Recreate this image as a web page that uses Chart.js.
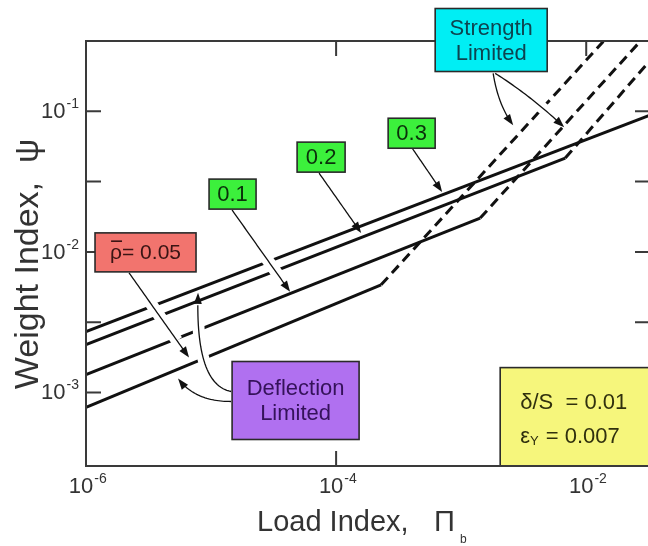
<!DOCTYPE html>
<html>
<head>
<meta charset="utf-8">
<script src="https://cdn.jsdelivr.net/npm/chart.js@4/dist/chart.umd.min.js"></script>
<style>
  html, body { margin: 0; padding: 0; background: #fff; overflow: hidden; }
</style>
</head>
<body>
<canvas id="chart" width="650" height="546"></canvas>
<script>
// values (load index Pi_b, weight index psi)
const rhoLabels = ['0.05', '0.1', '0.2', '0.3'];

// deflection limited parts (solid), ending at the knee
const deflLoad05 = [1e-6, 2.29e-4];
const deflPsi05 = [7.83e-4, 5.83e-3];
const deflLoad1 = [1e-6, 1.42e-3];
const deflPsi1 = [1.34e-3, 1.74e-2];
const deflLoad2 = [1e-6, 6.8e-3];
const deflPsi2 = [2.19e-3, 4.65e-2];
const deflLoad3 = [1e-6, 3.24e-2];
const deflPsi3 = [2.71e-3, 9.4e-2];

// strength limited parts (dashed), from the knee up
const strLoad05 = [2.29e-4, 1.37e-2];
const strPsi05 = [5.83e-3, 3.14e-1];
const strLoad1 = [1.42e-3, 2.7e-2];
const strPsi1 = [1.74e-2, 3.14e-1];
const strLoad2 = [6.8e-3, 3.24e-2];
const strPsi2 = [4.65e-2, 2.3e-1];

const yTickVals = [1e-3, Math.pow(10, -2.5), 1e-2, Math.pow(10, -1.5), 1e-1];
const xTickVals = [1e-4, 1e-2];
const yLabelExps = [-1, -2, -3];
const xLabelExps = [-6, -4, -2];

function pts(xs, ys) {
  return xs.map((x, i) => ({ x: x, y: ys[i] }));
}

const solid = { borderColor: '#111', borderWidth: 3, pointRadius: 0, fill: false };
const dashed = { borderColor: '#111', borderWidth: 3, pointRadius: 0, fill: false, borderDash: [10, 6] };

// annotation boxes and arrows, placed in log10 data units
const boxes = [
  { lines: ['Strength', 'Limited'], at: [-2.76, -0.493], w: 112, h: 63, fill: '#00eef4', ink: '#0d4450', size: 22 },
  { lines: ['0.3'], at: [-3.396, -1.156], w: 47, h: 30, fill: '#3cf03c', ink: '#0b300b', size: 22 },
  { lines: ['0.2'], at: [-4.12, -1.326], w: 48, h: 30, fill: '#3cf03c', ink: '#0b300b', size: 22 },
  { lines: ['0.1'], at: [-4.828, -1.589], w: 47, h: 30, fill: '#3cf03c', ink: '#0b300b', size: 22 },
  { lines: ['rho'], at: [-5.524, -2.0035], w: 101, h: 39, fill: '#f2746e', ink: '#3a1414', size: 21 },
  { lines: ['Deflection', 'Limited'], at: [-4.324, -3.057], w: 127, h: 78, fill: '#b070f0', ink: '#35125a', size: 22 }
];

const arrows = [
  { from: [-2.744, -0.73], ctrl: [-2.704, -0.957], to: [-2.584, -1.099] },
  { from: [-2.728, -0.73], ctrl: [-2.448, -0.887], to: [-2.176, -1.113] },
  { from: [-3.392, -1.262], to: [-3.152, -1.574] },
  { from: [-4.136, -1.44], to: [-3.8, -1.865] },
  { from: [-4.832, -1.702], to: [-4.368, -2.284] },
  { from: [-5.656, -2.149], to: [-5.176, -2.752] },
  { from: [-4.84, -3.064], ctrl: [-5.128, -3.064], to: [-5.264, -2.901] },
  { from: [-4.84, -2.993], ctrl: [-5.128, -2.943], to: [-5.104, -2.291] }
];

const font = (s) => s + 'px "Liberation Sans", Arial, Helvetica, sans-serif';

function px(chart, p) {
  return [chart.scales.x.getPixelForValue(Math.pow(10, p[0])), chart.scales.y.getPixelForValue(Math.pow(10, p[1]))];
}

function bez(a, c, b, t) {
  const u = 1 - t;
  return [u * u * a[0] + 2 * u * t * c[0] + t * t * b[0], u * u * a[1] + 2 * u * t * c[1] + t * t * b[1]];
}

function drawArrow(ctx, a, c, b) {
  const path = (t0, t1) => {
    ctx.beginPath();
    const s = bez(a, c, b, t0);
    ctx.moveTo(s[0], s[1]);
    for (let i = 1; i <= 30; i++) {
      const p = bez(a, c, b, t0 + (t1 - t0) * i / 30);
      ctx.lineTo(p[0], p[1]);
    }
  };
  // white halo breaks the lines the arrow crosses
  ctx.strokeStyle = '#fff';
  ctx.lineWidth = 12;
  ctx.lineCap = 'butt';
  path(0.05, 0.8);
  ctx.stroke();
  ctx.strokeStyle = '#111';
  ctx.lineWidth = 1.3;
  path(0, 0.93);
  ctx.stroke();
  const q = bez(a, c, b, 0.93);
  let dx = b[0] - q[0], dy = b[1] - q[1];
  const L = Math.hypot(dx, dy);
  dx /= L; dy /= L;
  const bx = b[0] - dx * 11, by = b[1] - dy * 11;
  ctx.fillStyle = '#111';
  ctx.beginPath();
  ctx.moveTo(b[0], b[1]);
  ctx.lineTo(bx - dy * 4, by + dx * 4);
  ctx.lineTo(bx + dy * 4, by - dx * 4);
  ctx.closePath();
  ctx.fill();
}

const decor = {
  id: 'decor',
  afterDraw(chart) {
    const ctx = chart.ctx;
    const a = chart.chartArea;
    const xs = chart.scales.x, ys = chart.scales.y;
    ctx.save();

    // arrows (drawn first so their halos cut the curves)
    arrows.forEach(ar => {
      const f = px(chart, ar.from), t = px(chart, ar.to);
      const c = ar.ctrl ? px(chart, ar.ctrl) : [(f[0] + t[0]) / 2, (f[1] + t[1]) / 2];
      drawArrow(ctx, f, c, t);
    });

    // frame and inward ticks
    ctx.strokeStyle = '#3a3a3a';
    ctx.lineWidth = 2;
    ctx.strokeRect(a.left, a.top, a.right - a.left, a.bottom - a.top);
    ctx.beginPath();
    yTickVals.forEach(v => {
      const y = ys.getPixelForValue(v);
      ctx.moveTo(a.left, y); ctx.lineTo(a.left + 15, y);
      ctx.moveTo(a.right, y); ctx.lineTo(a.right - 15, y);
    });
    xTickVals.forEach(v => {
      const x = xs.getPixelForValue(v);
      ctx.moveTo(x, a.bottom); ctx.lineTo(x, a.bottom - 15);
      ctx.moveTo(x, a.top); ctx.lineTo(x, a.top + 15);
    });
    ctx.stroke();

    // boxes
    ctx.textBaseline = 'middle';
    boxes.forEach(b => {
      const c = px(chart, b.at);
      const x0 = c[0] - b.w / 2, y0 = c[1] - b.h / 2;
      ctx.fillStyle = b.fill;
      ctx.fillRect(x0, y0, b.w, b.h);
      ctx.strokeStyle = '#2a2a2a';
      ctx.lineWidth = 1.6;
      ctx.strokeRect(x0, y0, b.w, b.h);
      ctx.fillStyle = b.ink;
      ctx.font = font(b.size);
      if (b.lines[0] === 'rho') {
        ctx.textAlign = 'left';
        const s = '\u03c1= ' + rhoLabels[0];
        const w = ctx.measureText(s).width;
        const sx = c[0] - w / 2;
        ctx.fillText(s, sx, c[1] + 1);
        const rw = ctx.measureText('\u03c1').width;
        ctx.fillRect(sx + 1, c[1] - 12, rw - 1, 1.6);
      } else {
        ctx.textAlign = 'center';
        const n = b.lines.length;
        b.lines.forEach((t, i) => {
          ctx.fillText(t, c[0], c[1] + (i - (n - 1) / 2) * 25 + 1);
        });
      }
    });

    // parameter box (bottom right)
    const yb = px(chart, [-2.688, -2.823]);
    ctx.fillStyle = '#f6f67c';
    ctx.fillRect(yb[0], yb[1], a.right - yb[0], a.bottom - yb[1]);
    ctx.strokeStyle = '#2a2a2a';
    ctx.lineWidth = 1.6;
    ctx.strokeRect(yb[0], yb[1], a.right - yb[0] + 4, a.bottom - yb[1]);
    ctx.fillStyle = '#30300e';
    ctx.textAlign = 'left';
    ctx.font = font(22);
    ctx.fillText('\u03b4/S  = 0.01', yb[0] + 20, yb[1] + 35);
    ctx.fillText('\u03b5', yb[0] + 20, yb[1] + 69);
    const ew = ctx.measureText('\u03b5').width;
    ctx.font = font(13);
    ctx.fillText('Y', yb[0] + 20 + ew, yb[1] + 74);
    const yw = ctx.measureText('Y').width;
    ctx.font = font(22);
    ctx.fillText(' = 0.007', yb[0] + 20 + ew + yw + 1, yb[1] + 69);

    // redraw the bottom frame line over the yellow box
    ctx.strokeStyle = '#3a3a3a';
    ctx.lineWidth = 2;
    ctx.beginPath();
    ctx.moveTo(a.left, a.bottom); ctx.lineTo(a.right, a.bottom);
    ctx.stroke();

    // tick labels
    ctx.fillStyle = '#333';
    ctx.textBaseline = 'alphabetic';
    yLabelExps.forEach(e => {
      const y = ys.getPixelForValue(Math.pow(10, e));
      const xr = a.left - 7;
      ctx.font = font(14);
      ctx.textAlign = 'right';
      const es = '-' + Math.abs(e);
      const ew2 = ctx.measureText(es).width;
      ctx.fillText(es, xr, y - 3);
      ctx.font = font(22);
      ctx.fillText('10', xr - ew2 - 1, y + 7);
    });
    xLabelExps.forEach(e => {
      const x = xs.getPixelForValue(Math.pow(10, e));
      ctx.font = font(22);
      ctx.textAlign = 'center';
      const w10 = ctx.measureText('10').width;
      ctx.fillText('10', x - 5, a.bottom + 27);
      ctx.font = font(14);
      ctx.textAlign = 'left';
      ctx.fillText('-' + Math.abs(e), x - 5 + w10 / 2 + 1, a.bottom + 17);
    });

    // axis titles
    ctx.font = font(29);
    ctx.textAlign = 'left';
    ctx.fillText('Load Index,', 257, 531);
    ctx.fillText('\u03a0', 434, 531);
    ctx.font = font(12);
    ctx.fillText('b', 460, 543);

    ctx.translate(38, 264);
    ctx.rotate(-Math.PI / 2);
    ctx.font = font(34);
    ctx.textAlign = 'center';
    ctx.fillText('Weight Index,  \u03c8', 0, 0);
    ctx.restore();
  }
};

new Chart(document.getElementById('chart'), {
  type: 'line',
  data: {
    datasets: [
      Object.assign({ label: 'defl ' + rhoLabels[0], data: pts(deflLoad05, deflPsi05) }, solid),
      Object.assign({ label: 'defl ' + rhoLabels[1], data: pts(deflLoad1, deflPsi1) }, solid),
      Object.assign({ label: 'defl ' + rhoLabels[2], data: pts(deflLoad2, deflPsi2) }, solid),
      Object.assign({ label: 'defl ' + rhoLabels[3], data: pts(deflLoad3, deflPsi3) }, solid),
      Object.assign({ label: 'str ' + rhoLabels[0], data: pts(strLoad05, strPsi05) }, dashed),
      Object.assign({ label: 'str ' + rhoLabels[1], data: pts(strLoad1, strPsi1) }, dashed),
      Object.assign({ label: 'str ' + rhoLabels[2], data: pts(strLoad2, strPsi2) }, dashed)
    ]
  },
  options: {
    responsive: false,
    animation: false,
    layout: { padding: { top: 41, right: 0, left: 0, bottom: 0 } },
    plugins: { legend: { display: false }, tooltip: { enabled: false } },
    scales: {
      x: {
        type: 'logarithmic', min: 1e-6, max: Math.pow(10, -1.49),
        grid: { display: false }, border: { display: false }, ticks: { display: false },
        afterFit: (s) => { s.height = 80; }
      },
      y: {
        type: 'logarithmic', min: Math.pow(10, -3.5), max: Math.pow(10, -0.5),
        grid: { display: false }, border: { display: false }, ticks: { display: false },
        afterFit: (s) => { s.width = 86; }
      }
    }
  },
  plugins: [decor]
});
</script>
</body>
</html>
